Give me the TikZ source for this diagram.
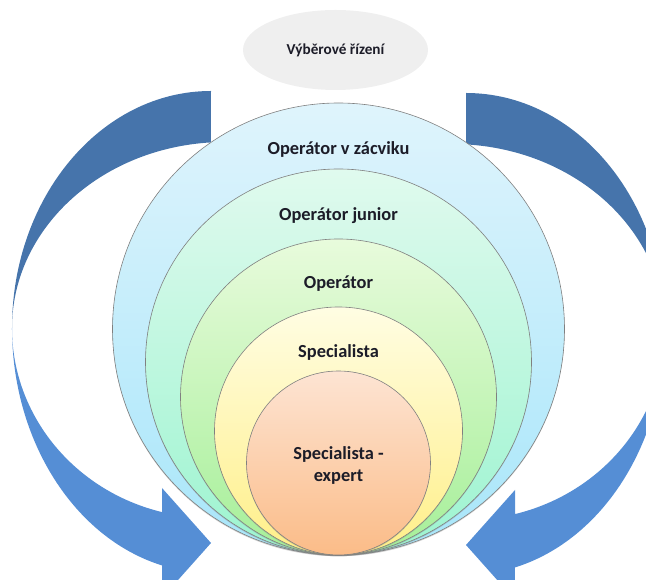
\documentclass[tikz,border=0pt]{standalone}
\usepackage{fontspec}
\setmainfont{Carlito}
\usetikzlibrary{shadows,shapes.geometric}

\definecolor{arrowdark}{HTML}{4674AB}
\definecolor{arrowlight}{HTML}{558ED5}
\definecolor{ovalgray}{HTML}{EFEFEF}
\definecolor{textdark}{HTML}{1C1C28}
% ring shades, top and bottom
\definecolor{skytop}{HTML}{DFF4FC}
\definecolor{skybot}{HTML}{A8E6FA}
\definecolor{minttop}{HTML}{E0FAEE}
\definecolor{mintbot}{HTML}{9CF4D0}
\definecolor{leaftop}{HTML}{E8FBDC}
\definecolor{leafbot}{HTML}{A5EF98}
\definecolor{lemontop}{HTML}{FFFDE3}
\definecolor{lemonbot}{HTML}{FFEF88}
\definecolor{peachtop}{HTML}{FDE4D3}
\definecolor{peachbot}{HTML}{FBBC88}

\tikzset{
	ring/.style={draw=black!50, line width=0.6pt, shading angle=0,
		drop shadow={opacity=0.35, shadow xshift=0pt, shadow yshift=-1.2pt}},
	ringtext/.style={font=\bfseries\fontsize{18.4}{22}\selectfont, text=textdark, align=center},
}

% ring of radius #1, all rings touch at the bottom point (338.5, 25)
\def\ring(#1:#2:#3){\draw[ring, top color=#2, bottom color=#3] (338.5, {25+#1}) circle (#1);}

\begin{document}
\begin{tikzpicture}[x=1pt, y=1pt]
			%%%%% START %%%%%
			
			\useasboundingbox (0, 0) rectangle (646, 580);
			\clip (0, 0) rectangle (646, 580);
			
			% left curved arrow: back side, then front side with head
			\fill[arrowdark] (211, 489) arc[start angle=90, end angle=180, x radius=199, y radius=237]
				arc[start angle=180, end angle=93.8, x radius=213, y radius=186] -- cycle;
			\fill[arrowlight] (12, 252) arc[start angle=180, end angle=255.75, x radius=199, y radius=245]
				-- (162, -18) -- (211, 37) -- (162, 92) -- (162, 67.9)
				arc[start angle=255.75, end angle=180, x radius=199, y radius=190] -- cycle;
			
			% right curved arrow, mirrored
			\begin{scope}[xshift=677pt, xscale=-1, yshift=-2pt]
				\fill[arrowdark] (211, 489) arc[start angle=90, end angle=180, x radius=199, y radius=237]
					arc[start angle=180, end angle=93.8, x radius=213, y radius=186] -- cycle;
				\fill[arrowlight] (12, 252) arc[start angle=180, end angle=255.75, x radius=199, y radius=245]
					-- (162, -18) -- (211, 37) -- (162, 92) -- (162, 67.9)
					arc[start angle=255.75, end angle=180, x radius=199, y radius=190] -- cycle;
			\end{scope}
			
			\node[ellipse, fill=ovalgray, minimum width=185pt, minimum height=80pt, inner sep=0pt,
				font=\bfseries\fontsize{15.2}{18}\selectfont, text=textdark] (vyber) at (335.5, 530) {Výběrové řízení};
			
			\ring(226:skytop:skybot)
			\ring(193:minttop:mintbot)
			\ring(158:leaftop:leafbot)
			\ring(124:lemontop:lemonbot)
			\ring(92:peachtop:peachbot)
			
			\node[ringtext] (zacvik) at (338.5, 430) {Operátor v zácviku};
			\node[ringtext] (junior) at (338.5, 364) {Operátor junior};
			\node[ringtext] (operator) at (338.5, 296) {Operátor};
			\node[ringtext] (special) at (338.5, 228) {Specialista};
			\node[ringtext] (expert) at (338.5, 115) {Specialista -\\expert};
			
			%%%%% END %%%%%
		\end{tikzpicture}
\end{document}
